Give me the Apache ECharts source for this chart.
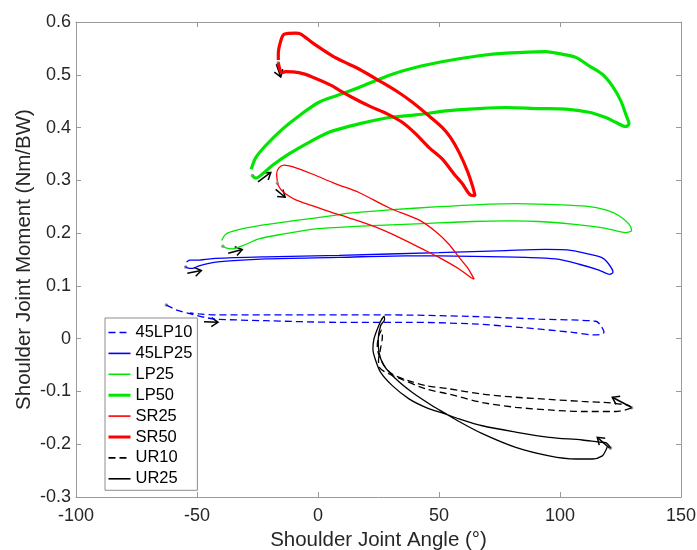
<!DOCTYPE html>
<html>
<head>
<meta charset="utf-8">
<script src="https://cdn.jsdelivr.net/npm/echarts@6/dist/echarts.min.js"></script>
<style>html,body{margin:0;padding:0;background:#fff}#c{width:697px;height:550px}</style>
</head>
<body>
<div id="c"></div>
<script>
// ---- data (x = shoulder joint angle in deg, y = moment in Nm/BW) ----
const names = ['45LP10','45LP25','LP25','LP50','SR25','SR50','UR10','UR25'];

const lp45_10 = [[-62.7,0.064],[-61.9,0.062],[-58.8,0.055],[-56.1,0.051],[-52,0.046],[-46.4,0.040],[-42.3,0.037],[-21.6,0.034],[8.7,0.031],[36.2,0.031],[63.8,0.028],[84.4,0.021],[105.1,0.012],[114.0,0.007],[116.8,0.008],[118.2,0.012],[116.8,0.025],[114.8,0.033],[91.3,0.037],[63.8,0.042],[28.0,0.045],[-21.6,0.045],[-42.3,0.045],[-49.2,0.047],[-53,0.049]];

const lp45_25 = [[-54.7,0.137],[-54.0,0.134],[-51.9,0.133],[-49.2,0.138],[-42.3,0.145],[-21.6,0.151],[8.7,0.154],[36.2,0.157],[63.8,0.156],[85.8,0.154],[98.2,0.151],[107.9,0.141],[116.1,0.130],[120.5,0.122],[121.9,0.126],[120.2,0.141],[117.5,0.153],[112.0,0.160],[105.1,0.167],[94.1,0.169],[77.6,0.167],[50.0,0.163],[8.7,0.158],[-21.6,0.155],[-42.3,0.152],[-49.2,0.149],[-53.0,0.149],[-54.3,0.145]];

const lp25 = [[-39.3,0.175],[-38.1,0.172],[-35.4,0.170],[-31.3,0.176],[-24.4,0.189],[-14.7,0.198],[-1.0,0.208],[8.7,0.211],[22.4,0.214],[43.1,0.218],[63.8,0.222],[78.9,0.223],[91.3,0.222],[105.1,0.217],[118.9,0.209],[127.1,0.201],[129.6,0.205],[128.5,0.217],[124.4,0.233],[118.9,0.244],[110.6,0.251],[98.2,0.254],[81.7,0.256],[70.7,0.255],[50.0,0.250],[29.3,0.244],[12.8,0.238],[5.9,0.233],[-10.6,0.223],[-24.4,0.214],[-34.0,0.205],[-38.1,0.198],[-39.8,0.186]];

const lp50 = [[-27.1,0.309],[-25.7,0.304],[-23.0,0.312],[-18.9,0.328],[-12.0,0.350],[-3.7,0.372],[4.5,0.391],[8.7,0.397],[16.9,0.407],[29.3,0.419],[40.4,0.424],[54.1,0.432],[66.5,0.436],[77.6,0.438],[91.3,0.436],[102.4,0.435],[112.0,0.429],[118.9,0.419],[123.0,0.410],[127.1,0.402],[128.5,0.407],[127.1,0.426],[125.1,0.451],[121.6,0.479],[117.5,0.501],[112.0,0.517],[106.5,0.533],[99.6,0.540],[94.1,0.544],[77.6,0.541],[66.5,0.536],[54.1,0.527],[43.1,0.517],[30.7,0.501],[16.9,0.476],[8.7,0.462],[0.4,0.448],[-7.9,0.422],[-14.7,0.397],[-21.6,0.366],[-25.7,0.343],[-27.6,0.321]];

const sr25 = [[-16.8,0.294],[-15.4,0.283],[-13.3,0.274],[-9.2,0.263],[-2.4,0.252],[5.9,0.239],[12.8,0.229],[22.4,0.214],[33.5,0.192],[43.1,0.170],[50.0,0.154],[58.3,0.132],[63.1,0.116],[64.5,0.113],[63.8,0.119],[61.7,0.135],[58.3,0.154],[54.1,0.179],[48.6,0.203],[41.7,0.225],[29.3,0.248],[16.9,0.277],[8.7,0.291],[5.9,0.296],[-2.4,0.312],[-10.6,0.326],[-14.0,0.329],[-16.1,0.324],[-17.1,0.312],[-16.8,0.298]];

const sr50 = [[-16.4,0.523],[-15.8,0.511],[-15.0,0.504],[-13.3,0.506],[-7.9,0.504],[-2.4,0.496],[5.9,0.479],[8.7,0.471],[14.2,0.457],[21.1,0.441],[28.6,0.426],[34.8,0.410],[40.4,0.388],[45.9,0.362],[51.4,0.340],[56.2,0.312],[59.6,0.294],[63.1,0.272],[64.9,0.271],[63.8,0.290],[61.7,0.318],[58.3,0.353],[54.8,0.381],[51.4,0.400],[45.9,0.422],[39.0,0.448],[33.5,0.466],[25.2,0.489],[16.9,0.511],[12.8,0.520],[5.9,0.536],[-2.4,0.561],[-7.1,0.577],[-9.2,0.579],[-14.0,0.577],[-15.4,0.564],[-16.4,0.540],[-16.4,0.528]];

const ur10 = [[129.6,-0.131],[128.5,-0.127],[121.6,-0.122],[109.2,-0.119],[95.5,-0.115],[81.7,-0.111],[67.9,-0.105],[54.1,-0.095],[44.5,-0.089],[37.6,-0.080],[30.7,-0.067],[27.3,-0.051],[25.2,-0.032],[24.5,-0.013],[25.3,0.008],[26.3,0.016],[26.6,0.004],[25.8,-0.02],[25.0,-0.042],[25.6,-0.056],[29,-0.066],[33.5,-0.075],[44.5,-0.095],[54.1,-0.105],[67.9,-0.121],[81.7,-0.130],[95.5,-0.135],[109.2,-0.138],[123.0,-0.138],[127.1,-0.135],[129.6,-0.131]];

const ur25 = [[120.9,-0.207],[118.9,-0.197],[116.1,-0.196],[109.2,-0.192],[95.5,-0.187],[81.7,-0.177],[67.9,-0.165],[58.3,-0.152],[52.8,-0.143],[44.5,-0.130],[37.6,-0.114],[30.7,-0.089],[25.9,-0.064],[23.6,-0.038],[22.7,-0.020],[23.1,-0.001],[24.5,0.018],[26.0,0.034],[27.3,0.042],[27.5,0.036],[25.9,0.025],[24.9,-0.001],[25.2,-0.026],[27.3,-0.051],[32.1,-0.076],[39.0,-0.102],[47.2,-0.127],[52.8,-0.142],[58.3,-0.157],[67.9,-0.180],[81.7,-0.206],[95.5,-0.222],[106.5,-0.228],[113.4,-0.228],[117.5,-0.222],[118.9,-0.212],[119.5,-0.205]];

// trial start markers
const startPoints = [[-62.7,0.064],[-54.7,0.136],[-39.3,0.175],[-27.1,0.309],[-16.8,0.295],[-16.4,0.523],[129.6,-0.131],[120.9,-0.207]];

// direction arrows: [tailX, tailY, tipX, tipY]
const arrows = [[-17.2,0.520,-15.4,0.496],[-17.5,0.283,-13.6,0.268],[-24.8,0.297,-19.5,0.315],[-37.1,0.162,-31.3,0.169],[-54.0,0.124,-48.2,0.129],[-47.1,0.032,-41.3,0.031],[129.1,-0.129,121.6,-0.111],[120.9,-0.209,115.4,-0.187]];

const xTicks = {min:-100, max:150, interval:50};
const yTicks = {min:-0.3, max:0.6, interval:0.1};

// ---- chart ----
const FONT = '"Liberation Sans", Arial, sans-serif';
const AX = '#9a9a9a';
const TXT = '#262626';
const chart = echarts.init(document.getElementById('c'), null, {renderer:'canvas'});

const styles = {
  '45LP10': {color: '#0000ff', width: 1.3, dashed: true,  legendWidth: 1.6},
  '45LP25': {color: '#0000ff', width: 1.3, dashed: false, legendWidth: 1.6},
  'LP25':   {color: '#00e600', width: 1.3, dashed: false, legendWidth: 1.6},
  'LP50':   {color: '#00e600', width: 3.2, dashed: false, legendWidth: 3},
  'SR25':   {color: '#ff0000', width: 1.3, dashed: false, legendWidth: 1.6},
  'SR50':   {color: '#ff0000', width: 3.2, dashed: false, legendWidth: 3},
  'UR10':   {color: '#000000', width: 1.3, dashed: true,  legendWidth: 1.6},
  'UR25':   {color: '#000000', width: 1.3, dashed: false, legendWidth: 1.6}
};

function lineSeries(name, data) {
  const s = styles[name];
  return {
    name: name, type: 'line', data: data, symbol: 'none', showSymbol: false,
    smooth: 0.3, animation: false, clip: false,
    lineStyle: {color: s.color, width: s.width, type: s.dashed ? [7,4] : 'solid'},
    itemStyle: {color: s.color}
  };
}

const axisCommon = {
  type: 'value', splitLine: {show: false},
  axisLine: {show: true, onZero: false, lineStyle: {color: AX, width: 1}},
  axisTick: {show: true, inside: true, length: 5, lineStyle: {color: AX}}
};

const option = {
  backgroundColor: '#fff',
  animation: false,
  textStyle: {fontFamily: FONT},
  grid: {left: 76, right: 16, top: 22, bottom: 53, containLabel: false, outerBoundsMode: 'none'},
  xAxis: [
    Object.assign({}, axisCommon, {
      position: 'bottom', min: xTicks.min, max: xTicks.max, interval: xTicks.interval,
      axisLabel: {color: TXT, fontSize: 18, fontFamily: FONT, margin: 10},
      name: 'Shoulder Joint Angle (°)', nameLocation: 'middle', nameGap: 33, nameMoveOverlap: false,
      nameTextStyle: {color: TXT, fontSize: 20.5, fontFamily: FONT}
    }),
    Object.assign({}, axisCommon, {
      position: 'top', min: xTicks.min, max: xTicks.max, interval: xTicks.interval,
      axisLabel: {show: false}
    })
  ],
  yAxis: [
    Object.assign({}, axisCommon, {
      position: 'left', min: yTicks.min, max: yTicks.max, interval: yTicks.interval,
      axisLabel: {color: TXT, fontSize: 18, fontFamily: FONT, margin: 5,
        formatter: v => String(Math.round(v * 10) / 10)},
      name: 'Shoulder Joint Moment (Nm/BW)', nameLocation: 'middle', nameGap: 41, nameRotate: 90,
      nameMoveOverlap: false,
      nameTextStyle: {color: TXT, fontSize: 20.5, fontFamily: FONT}
    }),
    Object.assign({}, axisCommon, {
      position: 'right', min: yTicks.min, max: yTicks.max, interval: yTicks.interval,
      axisLabel: {show: false}
    })
  ],
  legend: {
    data: names.map(n => ({name: n, lineStyle: {width: styles[n].legendWidth}})),
    orient: 'vertical', left: 105, top: 318,
    itemWidth: 22, itemHeight: 10, itemGap: 3.9,
    padding: [6, 5, 3, 2],
    backgroundColor: '#fff', borderColor: '#8c8c8c', borderWidth: 1, borderRadius: 0,
    itemStyle: {opacity: 0},
    textStyle: {color: '#000', fontSize: 16.5, fontFamily: FONT},
    selectedMode: false
  },
  series: names.map((n, i) => lineSeries(n, [lp45_10, lp45_25, lp25, lp50, sr25, sr50, ur10, ur25][i])).concat([
    {
      type: 'custom', name: 'arrows', data: arrows, animation: false, clip: false,
      encode: {x: [0, 2], y: [1, 3]},
      renderItem: function (params, api) {
        const t = api.coord([api.value(0), api.value(1)]);
        const h = api.coord([api.value(2), api.value(3)]);
        const ang = Math.atan2(h[1] - t[1], h[0] - t[0]);
        const L = 8, spread = 0.6;
        const a1 = [h[0] - L * Math.cos(ang - spread), h[1] - L * Math.sin(ang - spread)];
        const a2 = [h[0] - L * Math.cos(ang + spread), h[1] - L * Math.sin(ang + spread)];
        return {
          type: 'group',
          children: [
            {type: 'line', shape: {x1: t[0], y1: t[1], x2: h[0], y2: h[1]},
             style: {stroke: '#000', lineWidth: 1.5}},
            {type: 'polyline', shape: {points: [a1, h, a2]},
             style: {stroke: '#000', fill: null, lineWidth: 1.5}}
          ]
        };
      }
    },
    {
      type: 'scatter', name: 'start', data: startPoints, symbol: 'circle', symbolSize: 3.5,
      itemStyle: {color: '#808080'}, animation: false, silent: true
    }
  ])
};
chart.setOption(option);
</script>
</body>
</html>
